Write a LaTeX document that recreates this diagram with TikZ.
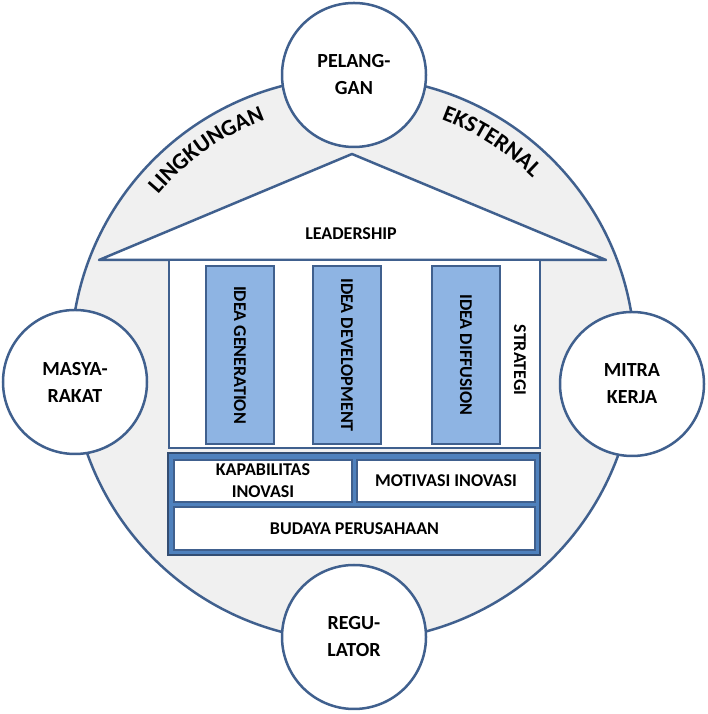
\documentclass[tikz,border=0pt]{standalone}
\usepackage{fontspec}
\setmainfont{Carlito}
\usetikzlibrary{decorations.text}
\definecolor{rimblue}{RGB}{64,96,142}
\definecolor{pillarblue}{RGB}{142,180,227}
\definecolor{baseblue}{RGB}{79,129,189}
\definecolor{ringgray}{RGB}{240,240,240}

\begin{document}
\begin{tikzpicture}[x=1pt, y=1pt,
    party/.style={circle, draw=rimblue, line width=2.5pt, fill=white, minimum size=144pt,
                  inner sep=0pt, align=center, font=\bfseries\fontsize{20}{27}\selectfont},
    pillar/.style={draw=rimblue, line width=2pt, fill=pillarblue, rotate=-90,
                   minimum width=178pt, minimum height=68pt, inner sep=0pt,
                   font=\bfseries\fontsize{18}{20}\selectfont},
    slab/.style={draw=rimblue, line width=1.5pt, fill=white, inner sep=0pt, align=center,
                 font=\bfseries\fontsize{18}{22}\selectfont},
    tag/.style={inner sep=0pt, font=\bfseries\fontsize{18}{22}\selectfont},
    arctext/.style={decorate, decoration={text along path, text align=center,
                    text={|\bfseries\fontsize{23}{23}\selectfont|#1}}}]

    \useasboundingbox (0,0) rectangle (707,714);

    % --- Outer Ring ---
    \node[circle, draw=rimblue, fill=ringgray, line width=2.5pt, minimum size=564pt,
          inner sep=0pt] (ring) at (353,355) {};

    % Arc labels
    \path[arctext=LINGKUNGAN] (ring.center) ++(141:255) arc[start angle=141, end angle=109, radius=255];
    \path[arctext=EKSTERNAL] (ring.center) ++(70:255) arc[start angle=70, end angle=45, radius=255];

    % --- Stakeholders ---
    \node[party] (pelanggan) at (354,639) {PELANG-\\GAN};
    \node[party] (regulator) at (354,77) {REGU-\\LATOR};
    \node[party] (masyarakat) at (75,332) {MASYA-\\RAKAT};
    \node[party] (mitra) at (632,330) {MITRA\\KERJA};

    % --- Roof ---
    \coordinate (eaveL) at (99,454);
    \coordinate (ridge) at (352,560);
    \coordinate (eaveR) at (606,454);
    \filldraw[draw=rimblue, fill=white, line width=2.5pt, line join=round]
        (eaveL) -- (ridge) -- (eaveR) -- cycle;
    \node[tag] (lead) at (351,480) {LEADERSHIP};

    % --- Hall with pillars ---
    \node[draw=rimblue, fill=white, line width=2.5pt, minimum width=371pt,
          minimum height=188pt, inner sep=0pt] (hall) at (354.5,360) {};
    \node[pillar] (gen) at (240,359) {IDEA GENERATION};
    \node[pillar] (dev) at (347,359) {IDEA DEVELOPMENT};
    \node[pillar] (dif) at (466,359) {IDEA DIFFUSION};
    \node[tag, rotate=-90] (strat) at (520,354) {STRATEGI};

    % --- Foundation ---
    \node[draw=rimblue!80!black, fill=baseblue, line width=2pt, minimum width=372pt,
          minimum height=102pt, inner sep=0pt] (plinth) at (354,210) {};
    \node[slab, minimum width=178pt, minimum height=42pt] (kap) at (263,233) {KAPABILITAS\\INOVASI};
    \node[slab, minimum width=178pt, minimum height=42pt] (mot) at (446,233) {MOTIVASI INOVASI};
    \node[slab, minimum width=361pt, minimum height=43pt] (bud) at (354.5,185.5) {BUDAYA PERUSAHAAN};

\end{tikzpicture}
\end{document}
